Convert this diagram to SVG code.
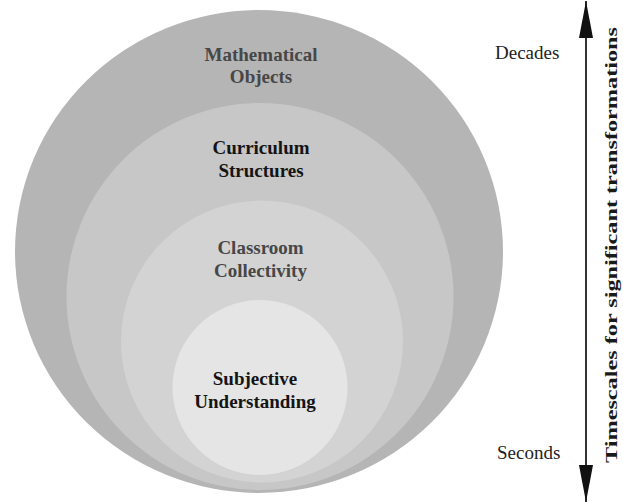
<svg xmlns="http://www.w3.org/2000/svg" width="623" height="503" viewBox="0 0 623 503">
  <defs>
    <style>
      .lbl { font-family: "Liberation Serif", "Times New Roman", serif; font-size: 19px; font-weight: bold; text-anchor: middle; }
      .dark { fill: #141414; }
      .grey { fill: #474747; }
      .scale { font-family: "Liberation Serif", "Times New Roman", serif; font-size: 19px; fill: #222; }
      .axis { font-family: "Liberation Serif", "Times New Roman", serif; font-size: 17px; font-weight: bold; fill: #1a1a1a; }
    </style>
    <marker id="head" viewBox="0 0 37 14" refX="37" refY="7" markerWidth="37" markerHeight="14" markerUnits="userSpaceOnUse" orient="auto-start-reverse">
      <path d="M0,0 L37,7 L0,14 Z" fill="#111"/>
    </marker>
  </defs>
  <rect width="623" height="503" fill="#ffffff"/>

  <g id="mathematical-objects">
    <ellipse cx="259" cy="251.5" rx="244" ry="241.5" fill="#b5b5b5"/>
    <text class="lbl grey" x="261" y="61">Mathematical</text>
    <text class="lbl grey" x="261" y="83">Objects</text>
  </g>
  <g id="curriculum-structures">
    <circle cx="260" cy="296.5" r="193.5" fill="#c7c7c7"/>
    <text class="lbl dark" x="261" y="154">Curriculum</text>
    <text class="lbl dark" x="261" y="177">Structures</text>
  </g>
  <g id="classroom-collectivity">
    <circle cx="262" cy="341.5" r="141" fill="#d3d3d3"/>
    <text class="lbl grey" x="260.5" y="254">Classroom</text>
    <text class="lbl grey" x="260.5" y="277">Collectivity</text>
  </g>
  <g id="subjective-understanding">
    <circle cx="260" cy="387.5" r="87.5" fill="#e5e5e5"/>
    <text class="lbl dark" x="255" y="385">Subjective</text>
    <text class="lbl dark" x="255" y="408">Understanding</text>
  </g>

  <g id="connectors">
    <line x1="586" y1="1" x2="586" y2="502" stroke="#333" stroke-width="2" marker-start="url(#head)" marker-end="url(#head)"/>
  </g>

  <g id="timescale-labels">
    <text class="scale" x="495" y="59">Decades</text>
    <text class="scale" x="497" y="459">Seconds</text>
    <text class="axis" transform="translate(617,463) rotate(-90)" textLength="436" lengthAdjust="spacingAndGlyphs">Timescales for significant transformations</text>
  </g>
</svg>
